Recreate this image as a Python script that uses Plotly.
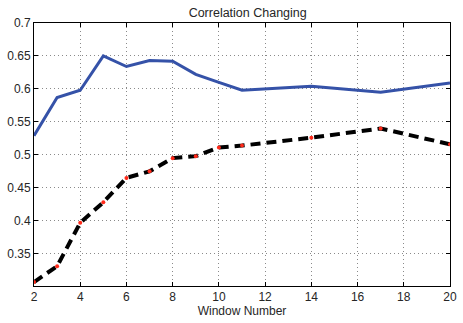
import plotly.graph_objects as go

x_blue = [2, 3, 4, 5, 6, 7, 8, 9, 10, 11, 14, 17, 20]
y_blue = [0.529, 0.587, 0.598, 0.650, 0.634, 0.643, 0.642, 0.622, 0.610, 0.598, 0.604, 0.595, 0.609]
x_dash = [2, 3, 4, 5, 6, 7, 8, 9, 10, 11, 14, 17, 20]
y_dash = [0.307, 0.331, 0.397, 0.428, 0.465, 0.475, 0.495, 0.498, 0.511, 0.514, 0.526, 0.540, 0.516]
x_ticks = [2, 4, 6, 8, 10, 12, 14, 16, 18, 20]
y_ticks = [0.35, 0.4, 0.45, 0.5, 0.55, 0.6, 0.65, 0.7]

fig = go.Figure()
fig.add_trace(go.Scatter(x=x_blue, y=y_blue, mode="lines",
                         line=dict(color="#3552a8", width=3), showlegend=False))
fig.add_trace(go.Scatter(x=x_dash, y=y_dash, mode="lines+markers",
                         line=dict(color="black", width=4, dash="10px,6px"),
                         marker=dict(color="#ff2a1a", size=4),
                         showlegend=False))

font = dict(family="Liberation Sans, Arial, sans-serif", size=12, color="#262626")
fig.update_layout(
    width=463, height=323,
    margin=dict(l=34, r=6, t=23, b=37),
    paper_bgcolor="white", plot_bgcolor="white",
    font=font,
    title=dict(text="Correlation Changing", x=0.535, xanchor="center", y=0.975, yanchor="top",
               font=dict(size=12.5, color="#262626")),
)
axis_common = dict(showline=True, linecolor="black", linewidth=1, mirror="ticks",
                   ticks="inside", ticklen=4, tickcolor="black",
                   showgrid=True, gridcolor="#8a8a8a", griddash="1px,3px", gridwidth=1,
                   zeroline=False, ticklabeloverflow="allow")
fig.update_xaxes(range=[2, 20], tickvals=x_ticks, ticktext=[str(v) for v in x_ticks],
                 title=dict(text="Window Number", standoff=2, font=font), **axis_common)
fig.update_yaxes(range=[0.301, 0.7], tickvals=y_ticks, ticktext=[f"{v:g}" for v in y_ticks],
                 **axis_common)
fig.write_html("out.html")
